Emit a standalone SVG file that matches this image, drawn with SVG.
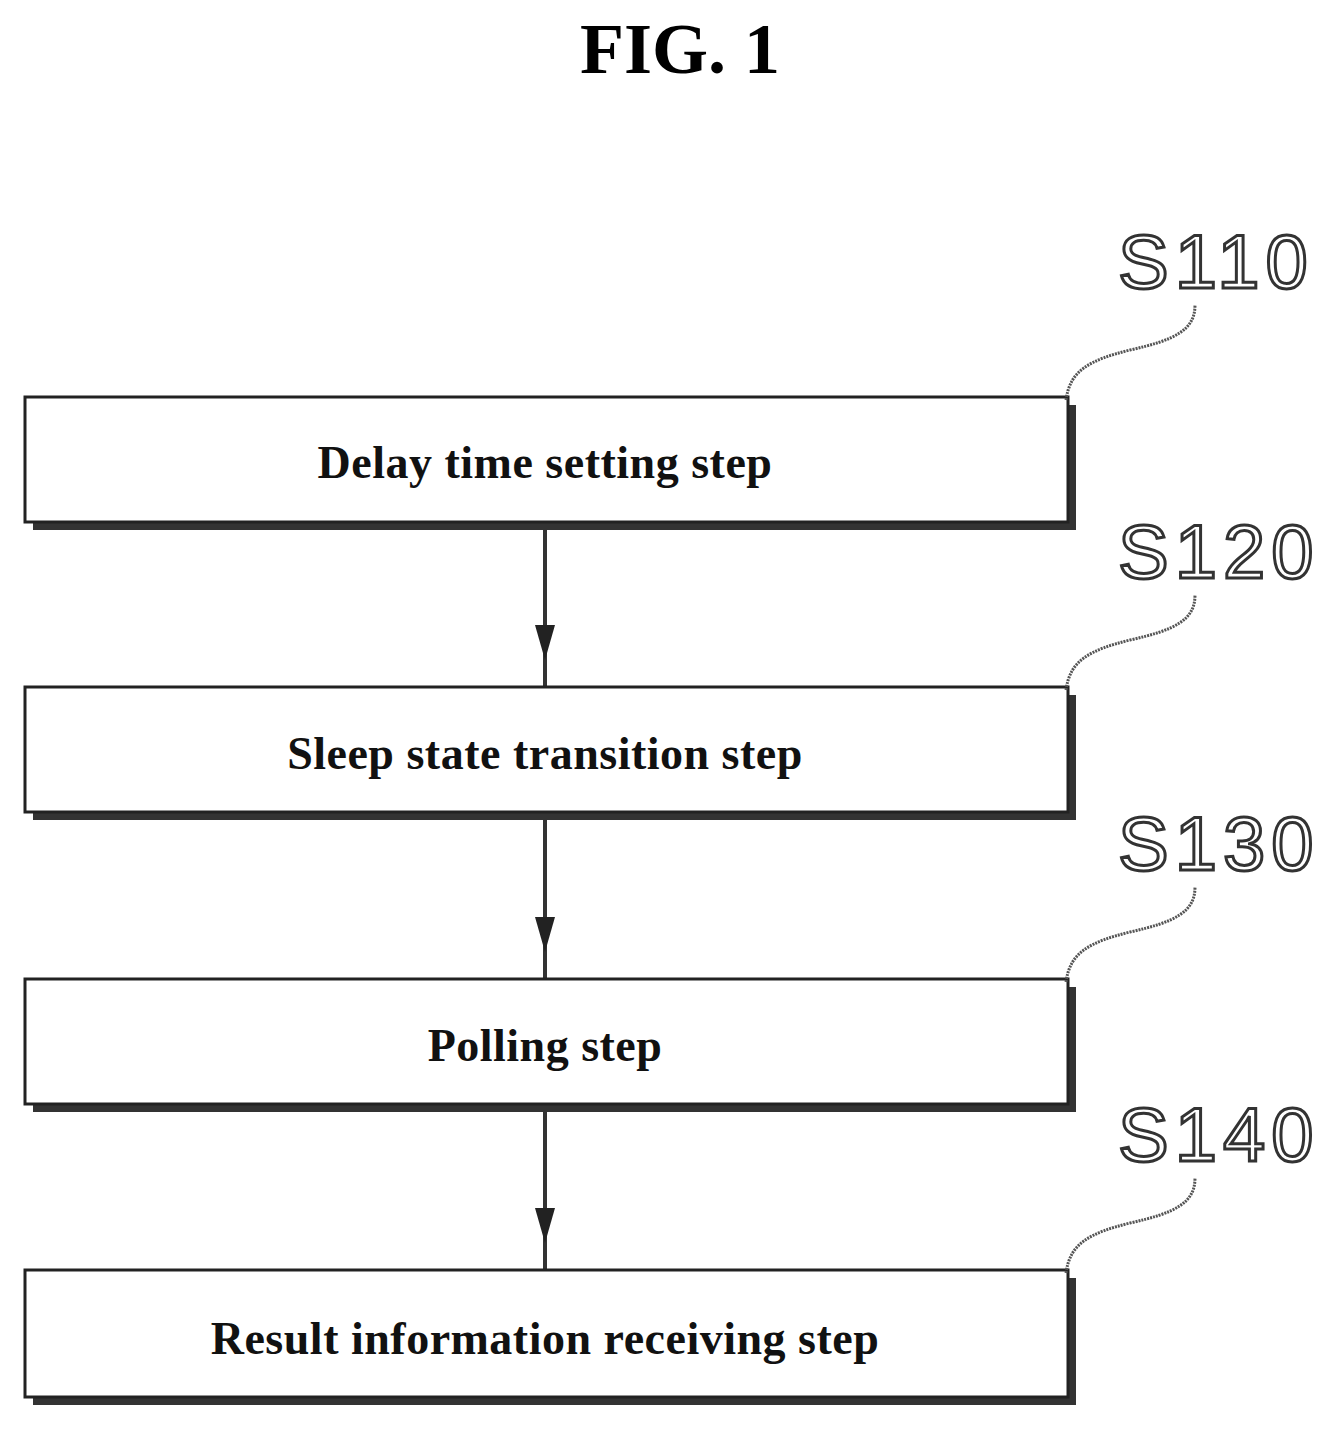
<svg xmlns="http://www.w3.org/2000/svg" width="1333" height="1434" viewBox="0 0 1333 1434">
<style>
.box{fill:#fff;stroke:#222;stroke-width:3}
.sh{fill:#333}
.t{font-family:"Liberation Serif",serif;font-weight:bold;font-size:46px;text-anchor:middle;fill:#111;letter-spacing:0.5px}
.lab{font-family:"Liberation Sans",sans-serif;font-size:76px;fill:#fff;stroke:#333;stroke-width:3;letter-spacing:6px}
.lead{fill:none;stroke:#555;stroke-width:3;stroke-dasharray:2 1}
.c{stroke:#333;stroke-width:4;fill:none}
</style>
<text x="680" y="73" font-family="Liberation Serif,serif" font-weight="bold" font-size="72" text-anchor="middle">FIG. 1</text>
<g id="connectors">
<path class="c" d="M545,530 V687"/><path d="M535,625 L555,625 L545,660 z" fill="#222"/>
<path class="c" d="M545,820 V979"/><path d="M535,917 L555,917 L545,952 z" fill="#222"/>
<path class="c" d="M545,1112 V1270"/><path d="M535,1208 L555,1208 L545,1243 z" fill="#222"/>
</g>
<g id="s110"><rect class="sh" x="33" y="405" width="1043" height="125"/><rect class="box" x="25" y="397" width="1043" height="125"/><text class="t" x="545" y="478">Delay time setting step</text>
<path class="lead" d="M1066,400 C1070,370 1090,360 1130,350 C1175,340 1195,330 1195,305"/><text class="lab" x="1118" y="288">S110</text></g>
<g id="s120"><rect class="sh" x="33" y="695" width="1043" height="125"/><rect class="box" x="25" y="687" width="1043" height="125"/><text class="t" x="545" y="769">Sleep state transition step</text>
<path class="lead" d="M1066,690 C1070,660 1090,650 1130,640 C1175,630 1195,620 1195,595"/><text class="lab" x="1118" y="578">S120</text></g>
<g id="s130"><rect class="sh" x="33" y="987" width="1043" height="125"/><rect class="box" x="25" y="979" width="1043" height="125"/><text class="t" x="545" y="1061">Polling step</text>
<path class="lead" d="M1066,982 C1070,952 1090,942 1130,932 C1175,922 1195,912 1195,887"/><text class="lab" x="1118" y="870">S130</text></g>
<g id="s140"><rect class="sh" x="33" y="1278" width="1043" height="127"/><rect class="box" x="25" y="1270" width="1043" height="127"/><text class="t" x="545" y="1354">Result information receiving step</text>
<path class="lead" d="M1066,1273 C1070,1243 1090,1233 1130,1223 C1175,1213 1195,1203 1195,1178"/><text class="lab" x="1118" y="1161">S140</text></g>
</svg>
